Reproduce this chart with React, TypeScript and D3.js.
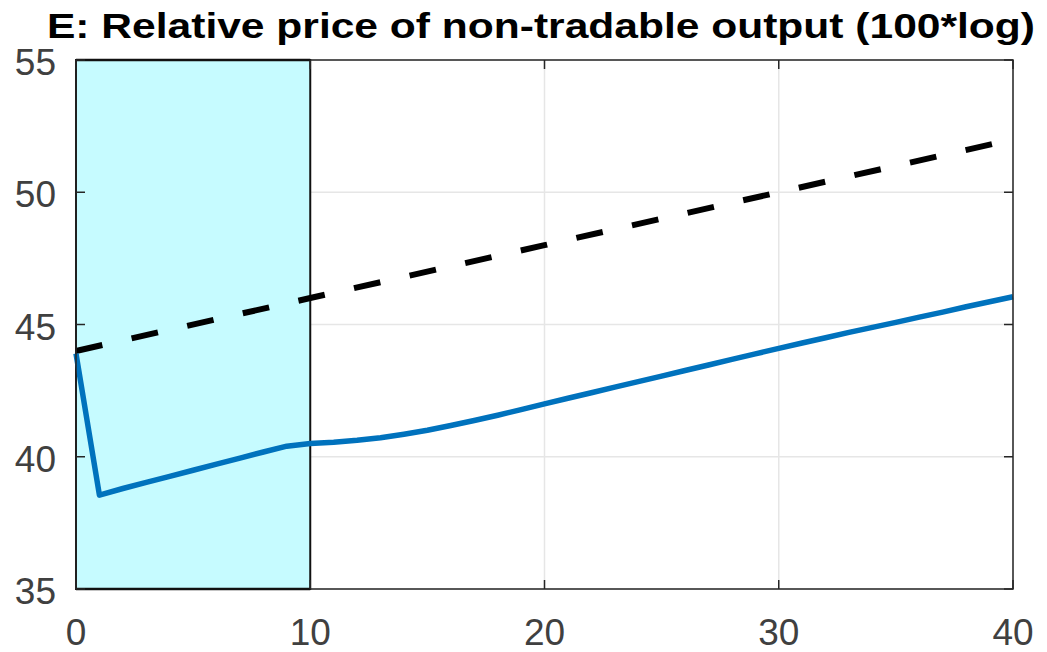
import React, { useEffect, useRef } from 'react';
import * as d3 from 'd3';

const title = 'E: Relative price of non-tradable output (100*log)';

const periods = [0, 1, 2, 3, 4, 5, 6, 7, 8, 9, 10, 11, 12, 13, 14, 15, 16, 17, 18, 19, 20,
  21, 22, 23, 24, 25, 26, 27, 28, 29, 30, 31, 32, 33, 34, 35, 36, 37, 38, 39, 40];
const actual = [43.9, 38.55, 38.8, 39.03, 39.26, 39.49, 39.72, 39.95, 40.18, 40.4, 40.5, 40.55, 40.62,
  40.72, 40.85, 41.0, 41.18, 41.37, 41.57, 41.78, 42.0, 42.21, 42.42, 42.63, 42.84, 43.05, 43.26,
  43.47, 43.68, 43.89, 44.1, 44.3, 44.5, 44.7, 44.89, 45.08, 45.28, 45.47, 45.67, 45.86, 46.05];

const trendPeriods = [0, 10, 20, 30, 40];
const trend = [44, 46, 48, 50, 52];

const shadeRange = [0, 10];
const xTicks = [0, 10, 20, 30, 40];
const yTicks = [35, 40, 45, 50, 55];

const W = 1047;
const H = 652;

export default function App() {
  const ref = useRef<SVGSVGElement>(null);

  useEffect(() => {
    const svg = d3.select(ref.current);
    svg.selectAll('*').remove();

    const margin = { top: 60, right: 34, bottom: 63, left: 76 };
    const iw = W - margin.left - margin.right;
    const ih = H - margin.top - margin.bottom;

    const x = d3.scaleLinear().domain([0, 40]).range([0, iw]);
    const y = d3.scaleLinear().domain([35, 55]).range([ih, 0]);

    svg.append('rect').attr('width', W).attr('height', H).attr('fill', '#fff');

    // Title
    svg.append('text')
      .attr('x', 47)
      .attr('y', 38)
      .attr('textLength', 988)
      .attr('lengthAdjust', 'spacingAndGlyphs')
      .style('font-family', '"Liberation Sans", Arial, sans-serif')
      .style('font-weight', 'bold')
      .style('font-size', '35px')
      .attr('fill', '#000')
      .text(title);

    const g = svg.append('g').attr('transform', `translate(${margin.left},${margin.top})`);

    // Grid
    g.selectAll('.gx').data(xTicks).enter().append('line')
      .attr('x1', d => x(d)).attr('x2', d => x(d))
      .attr('y1', 0).attr('y2', ih)
      .attr('stroke', '#e6e6e6').attr('stroke-width', 1.5);
    g.selectAll('.gy').data(yTicks).enter().append('line')
      .attr('x1', 0).attr('x2', iw)
      .attr('y1', d => y(d)).attr('y2', d => y(d))
      .attr('stroke', '#e6e6e6').attr('stroke-width', 1.5);

    // Shaded period
    g.append('rect')
      .attr('x', x(shadeRange[0]))
      .attr('y', 0)
      .attr('width', x(shadeRange[1]) - x(shadeRange[0]))
      .attr('height', ih)
      .attr('fill', '#c6fbff')
      .attr('stroke', '#111')
      .attr('stroke-width', 2);

    // Trend (dashed)
    const trendLine = d3.line<number>()
      .x((d, i) => x(trendPeriods[i]))
      .y(d => y(d));
    g.append('path')
      .datum(trend)
      .attr('fill', 'none')
      .attr('stroke', '#000')
      .attr('stroke-width', 6)
      .attr('stroke-dasharray', '27,30')
      .attr('d', trendLine);

    // Actual
    const line = d3.line<number>()
      .x((d, i) => x(periods[i]))
      .y(d => y(d));
    g.append('path')
      .datum(actual)
      .attr('fill', 'none')
      .attr('stroke', '#0072BD')
      .attr('stroke-width', 5.5)
      .attr('stroke-linejoin', 'round')
      .attr('d', line);

    // Axes box
    g.append('rect')
      .attr('width', iw).attr('height', ih)
      .attr('fill', 'none')
      .attr('stroke', '#262626')
      .attr('stroke-width', 1.5);
    g.append('line')
      .attr('x1', 0).attr('x2', x(shadeRange[1]))
      .attr('y1', 0).attr('y2', 0)
      .attr('stroke', '#111').attr('stroke-width', 2.5);
    g.append('line')
      .attr('x1', 0).attr('x2', x(shadeRange[1]))
      .attr('y1', ih).attr('y2', ih)
      .attr('stroke', '#111').attr('stroke-width', 2.5);

    // Inward ticks
    xTicks.forEach(t => {
      g.append('line').attr('x1', x(t)).attr('x2', x(t)).attr('y1', ih).attr('y2', ih - 9)
        .attr('stroke', '#262626').attr('stroke-width', 1.5);
      g.append('line').attr('x1', x(t)).attr('x2', x(t)).attr('y1', 0).attr('y2', 9)
        .attr('stroke', '#262626').attr('stroke-width', 1.5);
    });
    yTicks.forEach(t => {
      g.append('line').attr('x1', 0).attr('x2', 9).attr('y1', y(t)).attr('y2', y(t))
        .attr('stroke', '#262626').attr('stroke-width', 1.5);
      g.append('line').attr('x1', iw).attr('x2', iw - 9).attr('y1', y(t)).attr('y2', y(t))
        .attr('stroke', '#262626').attr('stroke-width', 1.5);
    });

    // Tick labels
    g.selectAll('.xl').data(xTicks).enter().append('text')
      .attr('x', d => x(d))
      .attr('y', ih + 56)
      .attr('text-anchor', 'middle')
      .style('font-family', '"Liberation Sans", Arial, sans-serif')
      .style('font-size', '37px')
      .attr('fill', '#404040')
      .text(d => d);
    g.selectAll('.yl').data(yTicks).enter().append('text')
      .attr('x', -20)
      .attr('y', d => y(d) + 15)
      .attr('text-anchor', 'end')
      .style('font-family', '"Liberation Sans", Arial, sans-serif')
      .style('font-size', '37px')
      .attr('fill', '#404040')
      .text(d => d);
  }, []);

  return (
    <svg ref={ref} width={W} height={H}
      style={{ position: 'absolute', left: 0, top: 0, display: 'block' }} />
  );
}
